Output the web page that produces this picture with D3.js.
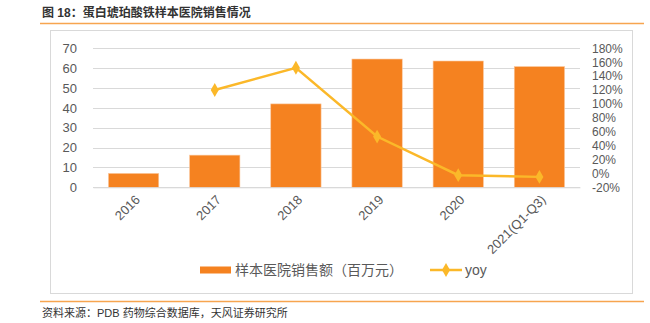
<!DOCTYPE html>
<html><head><meta charset="utf-8">
<script src="https://cdn.jsdelivr.net/npm/d3@7/dist/d3.min.js"></script>
<style>
body{margin:0;background:#fff;}
svg{display:block;font-family:"Liberation Sans","Noto Sans CJK SC",sans-serif;}
</style></head>
<body><svg id="c" width="650" height="323"></svg>
<script>
const categories = ["2016","2017","2018","2019","2020","2021(Q1-Q3)"];
const sales = [7.0, 16.2, 42.0, 64.6, 63.6, 60.8];
const yoy = [null, 120, 152, 53, -2.5, -5];
const leftTicks = [0,10,20,30,40,50,60,70];
const rightTicks = [-20,0,20,40,60,80,100,120,140,160,180];
const title = "图 18：蛋白琥珀酸铁样本医院销售情况";
const source = "资料来源：PDB 药物综合数据库，天风证券研究所";
const barName = "样本医院销售额（百万元）";
const lineName = "yoy";

const svg = d3.select("#c");
const barColor = "#F58220", lineColor = "#FBB829", gridColor = "#d9d9d9", textColor = "#595959";

// title & frame
svg.append("text").attr("x",42).attr("y",17).attr("font-size",12).attr("font-weight","bold")
  .attr("fill","#333").text(title);
svg.append("line").attr("x1",40).attr("x2",644).attr("y1",23.5).attr("y2",23.5).attr("stroke","#F7A54F").attr("stroke-width",1.5);
svg.append("rect").attr("x",50.5).attr("y",30.5).attr("width",582).attr("height",263).attr("fill","none").attr("stroke","#d9d9d9");
svg.append("line").attr("x1",40).attr("x2",644).attr("y1",301.5).attr("y2",301.5).attr("stroke","#F7A54F").attr("stroke-width",1.5);
svg.append("text").attr("x",42).attr("y",317).attr("font-size",11).attr("fill","#333").text(source);

const x = d3.scaleBand().domain(categories).range([93,580]).paddingInner(0.38).paddingOuter(0.19);
const y = d3.scaleLinear().domain([0,70]).range([187.3,48.3]);
const y2 = d3.scaleLinear().domain([-20,180]).range([187.3,48.3]);

// grid
svg.append("g").selectAll("line").data(leftTicks).join("line")
  .attr("x1",93).attr("x2",580).attr("y1",d=>Math.round(y(d))+0.5).attr("y2",d=>Math.round(y(d))+0.5)
  .attr("stroke",gridColor).attr("stroke-width",1);

// left axis
const la = svg.append("g").attr("transform","translate(80,0)")
  .call(d3.axisLeft(y).tickValues(leftTicks).tickSize(0).tickPadding(3).tickFormat(d3.format("d")));
la.select(".domain").remove();
la.selectAll("text").attr("font-size",13).attr("fill",textColor).attr("font-family","Liberation Sans, sans-serif");

// right axis
const ra = svg.append("g").attr("transform","translate(589,0)")
  .call(d3.axisRight(y2).tickValues(rightTicks).tickSize(0).tickPadding(3).tickFormat(d=>d+"%"));
ra.select(".domain").remove();
ra.selectAll("text").attr("font-size",12).attr("fill",textColor).attr("font-family","Liberation Sans, sans-serif");

// bars
svg.append("g").selectAll("rect").data(sales).join("rect")
  .attr("x",(d,i)=>x(categories[i])).attr("width",x.bandwidth())
  .attr("y",d=>y(d)).attr("height",d=>y(0)-y(d))
  .attr("fill",barColor).attr("stroke","#FAC9A0").attr("stroke-width",0.6);

// x axis
const xa = svg.append("g").attr("transform","translate(0,187.3)")
  .call(d3.axisBottom(x).tickSize(0).tickPadding(0));
xa.select(".domain").attr("stroke",gridColor);
xa.selectAll("text").attr("font-size",13).attr("fill",textColor)
  .attr("text-anchor","end").attr("dy","0.35em")
  .attr("transform","translate(4,10) rotate(-45)");

// line
const pts = yoy.map((v,i)=>({v,i})).filter(d=>d.v!==null);
const line = d3.line().x(d=>x(categories[d.i])+x.bandwidth()/2).y(d=>y2(d.v));
svg.append("path").datum(pts).attr("d",line).attr("fill","none").attr("stroke",lineColor).attr("stroke-width",2.5);
svg.append("g").selectAll("path").data(pts).join("path")
  .attr("d",d3.symbol(d3.symbolDiamond,55))
  .attr("transform",d=>`translate(${x(categories[d.i])+x.bandwidth()/2},${y2(d.v)})`)
  .attr("fill",lineColor);

// legend
svg.append("rect").attr("x",200).attr("y",266.5).attr("width",31).attr("height",7).attr("fill",barColor);
svg.append("text").attr("x",235).attr("y",270).attr("dy","0.35em").attr("font-size",14).attr("fill",textColor).text(barName);
svg.append("line").attr("x1",430).attr("x2",462).attr("y1",270).attr("y2",270).attr("stroke",lineColor).attr("stroke-width",2.5);
svg.append("path").attr("d",d3.symbol(d3.symbolDiamond,55)).attr("transform","translate(446,270)").attr("fill",lineColor);
svg.append("text").attr("x",465).attr("y",270).attr("dy","0.35em").attr("font-size",14).attr("fill",textColor).text(lineName);
</script></body></html>
